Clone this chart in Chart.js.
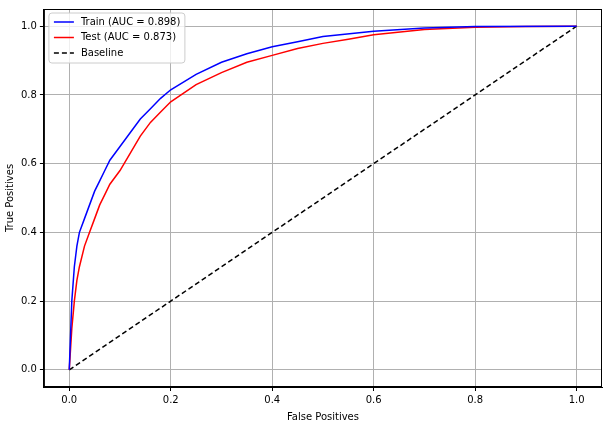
<!DOCTYPE html>
<html>
<head>
<script src="https://cdn.jsdelivr.net/npm/chart.js@4"></script>
<style>body{margin:0;background:#fff}#wrap{width:609px;height:425px}</style>
</head>
<body>
<div id="wrap"><canvas id="c"></canvas></div>
<script>
const trainFpr = [0, 0.005, 0.01, 0.015, 0.02, 0.03, 0.04, 0.05, 0.06, 0.07, 0.08, 0.1, 0.12, 0.14, 0.16, 0.18, 0.2, 0.25, 0.3, 0.35, 0.4, 0.45, 0.5, 0.6, 0.7, 0.8, 1];
const trainTpr = [0, 0.2, 0.3, 0.36, 0.4, 0.44, 0.48, 0.52, 0.55, 0.58, 0.61, 0.65, 0.69, 0.73, 0.76, 0.79, 0.815, 0.86, 0.895, 0.92, 0.94, 0.955, 0.97, 0.985, 0.995, 0.999, 1];
const testFpr = [0, 0.005, 0.01, 0.015, 0.02, 0.03, 0.04, 0.05, 0.06, 0.07, 0.08, 0.1, 0.12, 0.14, 0.16, 0.18, 0.2, 0.25, 0.3, 0.35, 0.4, 0.45, 0.5, 0.55, 0.6, 0.7, 0.8, 0.9, 1];
const testTpr = [0, 0.12, 0.2, 0.26, 0.3, 0.36, 0.4, 0.44, 0.48, 0.51, 0.54, 0.58, 0.63, 0.68, 0.72, 0.75, 0.78, 0.83, 0.865, 0.895, 0.915, 0.935, 0.95, 0.962, 0.975, 0.99, 0.997, 0.999, 1];
const baseX = [0, 1];
const baseY = [0, 1];
const tickVals = [0, 0.2, 0.4, 0.6, 0.8, 1.0];

const pts = (xs, ys) => xs.map((x, i) => ({ x, y: ys[i] }));

// legend box inside the plot, upper left, plus the full frame
const innerLegend = {
  id: 'innerLegend',
  afterDraw(chart) {
    const { ctx, chartArea: a } = chart;
    const sets = chart.data.datasets;
    ctx.save();
    ctx.strokeStyle = '#000';
    ctx.lineWidth = 1;
    ctx.strokeRect(a.left + 0.5, a.top + 0.5, a.right - a.left - 1, a.bottom - a.top - 1);
    const x0 = a.left + 5, y0 = a.top + 4, w = 136, h = 50;
    ctx.fillStyle = 'rgba(255,255,255,0.8)';
    ctx.strokeStyle = '#ccc';
    ctx.beginPath();
    ctx.roundRect(x0, y0, w, h, 3);
    ctx.fill(); ctx.stroke();
    ctx.font = '10px "DejaVu Sans"';
    ctx.textBaseline = 'middle';
    sets.forEach((d, i) => {
      const yy = y0 + 9 + i * 15.5;
      ctx.strokeStyle = d.borderColor;
      ctx.lineWidth = 1.5;
      ctx.setLineDash(d.borderDash || []);
      ctx.beginPath(); ctx.moveTo(x0 + 5, yy); ctx.lineTo(x0 + 25, yy); ctx.stroke();
      ctx.setLineDash([]);
      ctx.fillStyle = '#000';
      ctx.fillText(d.label, x0 + 32, yy);
    });
    ctx.restore();
  }
};

const axis = (title) => ({
  type: 'linear', min: -0.05, max: 1.05,
  afterBuildTicks: (s) => { s.ticks = tickVals.map(v => ({ value: v })); },
  ticks: { color: '#000', font: { size: 10, family: 'DejaVu Sans' }, callback: (v) => v.toFixed(1) },
  grid: { color: '#b0b0b0', tickColor: '#000', tickLength: 4 },
  border: { color: '#000' },
  title: { display: true, text: title, color: '#000', font: { size: 10, family: 'DejaVu Sans' }, padding: 2 }
});

new Chart(document.getElementById('c'), {
  type: 'line',
  data: {
    datasets: [
      { label: 'Train (AUC = 0.898)', data: pts(trainFpr, trainTpr), borderColor: '#0000ff', borderWidth: 1.5, pointRadius: 0 },
      { label: 'Test (AUC = 0.873)', data: pts(testFpr, testTpr), borderColor: '#ff0000', borderWidth: 1.5, pointRadius: 0 },
      { label: 'Baseline', data: pts(baseX, baseY), borderColor: '#000', borderWidth: 1.5, borderDash: [5, 3], pointRadius: 0 }
    ]
  },
  options: {
    responsive: true,
    maintainAspectRatio: false,
    animation: false,
    layout: { padding: { top: 6, right: 7, left: 2, bottom: 0 } },
    plugins: { legend: { display: false }, tooltip: { enabled: false } },
    scales: { x: axis('False Positives'), y: axis('True Positives') }
  },
  plugins: [innerLegend]
});
</script>
</body>
</html>
